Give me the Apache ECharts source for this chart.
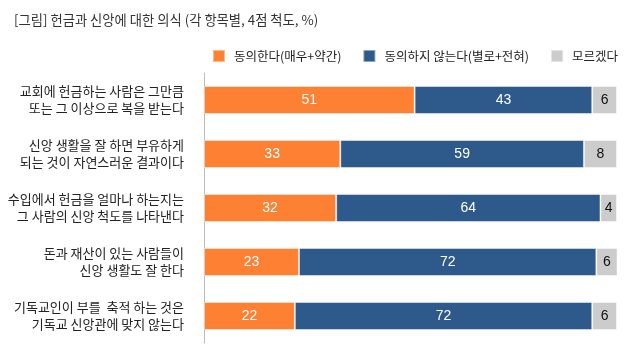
<!DOCTYPE html>
<html>
<head>
<meta charset="utf-8">
<script src="https://cdn.jsdelivr.net/npm/echarts@6/dist/echarts.min.js"></script>
<style>
  html, body { margin: 0; padding: 0; background: #fff; }
  #chart { width: 642px; height: 353px; }
</style>
</head>
<body>
<div id="chart"></div>
<script>
var categories = [
    "교회에 헌금하는 사람은 그만큼\n또는 그 이상으로 복을 받는다",
    "신앙 생활을 잘 하면 부유하게\n되는 것이 자연스러운 결과이다",
    "수입에서 헌금을 얼마나 하는지는\n그 사람의 신앙 척도를 나타낸다",
    "돈과 재산이 있는 사람들이\n신앙 생활도 잘 한다",
    "기독교인이 부를  축적 하는 것은\n기독교 신앙관에 맞지 않는다"
];
var agree = [51, 33, 32, 23, 22];
var disagree = [43, 59, 64, 72, 72];
var dontKnow = [6, 8, 4, 6, 6];
var seriesNames = ["동의한다(매우+약간)", "동의하지 않는다(별로+전혀)", "모르겠다"];
var colors = ["#fe8033", "#2d5a8b", "#cccccc"];

var font = "'Noto Sans CJK KR', sans-serif";

function makeSeries(name, data, color, labelColor) {
    return {
        name: name,
        type: "bar",
        stack: "total",
        data: data,
        barWidth: 28,
        itemStyle: { color: color, borderColor: "rgba(255,255,255,0.45)", borderWidth: 1 },
        label: {
            show: true,
            position: "inside",
            color: labelColor,
            fontSize: 14,
            fontFamily: "Liberation Sans, Arial, sans-serif"
        },
        emphasis: { disabled: true }
    };
}

var chart = echarts.init(document.getElementById("chart"));
chart.setOption({
    animation: false,
    title: {
        text: "[그림] 헌금과 신앙에 대한 의식 (각 항목별, 4점 척도, %)",
        left: 9,
        top: 8,
        textStyle: { fontSize: 13.3, fontWeight: "normal", color: "#333", fontFamily: font }
    },
    legend: {
        data: seriesNames,
        left: 207,
        top: 44,
        itemWidth: 12,
        itemHeight: 12,
        itemGap: 21,
        icon: "rect",
        textStyle: { fontSize: 12.5, color: "#222", fontFamily: font, padding: [0, 0, 0, 4] }
    },
    grid: { left: 204, right: 25, top: 73, height: 270 },
    xAxis: {
        type: "value",
        min: 0,
        max: 100,
        show: false
    },
    yAxis: {
        type: "category",
        data: categories,
        inverse: true,
        axisLine: { show: true, lineStyle: { color: "#bbbbbb", width: 1 } },
        axisTick: { show: false },
        axisLabel: {
            margin: 20,
            fontSize: 13,
            lineHeight: 17,
            color: "#222",
            fontFamily: font,
            align: "right"
        }
    },
    series: [
        makeSeries(seriesNames[0], agree, colors[0], "#fff"),
        makeSeries(seriesNames[1], disagree, colors[1], "#fff"),
        makeSeries(seriesNames[2], dontKnow, colors[2], "#111")
    ]
});
</script>
</body>
</html>
